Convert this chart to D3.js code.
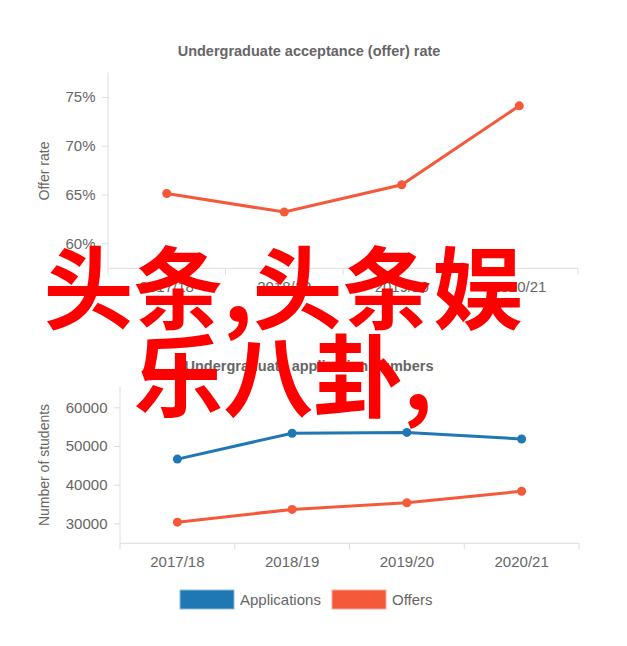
<!DOCTYPE html>
<html>
<head>
<meta charset="utf-8">
<script src="https://cdn.jsdelivr.net/npm/d3@7/dist/d3.min.js"></script>
<style>
  body { margin: 0; background: #fff; }
  svg { display: block; font-family: "Liberation Sans", Arial, sans-serif; }
  .axis path, .axis line { stroke: #ddd; }
  .axis text { fill: #666; font-size: 15px; }
</style>
</head>
<body>
<svg id="chart" width="627" height="646"></svg>
<script>
const YEARS = ["2017/18", "2018/19", "2019/20", "2020/21"];
const OFFER_RATE = [65.1, 63.2, 66.0, 74.1];
const RATE_TICKS = [60, 65, 70, 75];
const APPLICATIONS = [46600, 53300, 53500, 51800];
const OFFERS = [30300, 33600, 35300, 38300];
const COUNT_TICKS = [30000, 40000, 50000, 60000];
const SERIES_NAMES = ["Applications", "Offers"];

const BLUE = "#1f77b4";
const ORANGE = "#f4593a";

var svg = d3.select("#chart");

// draws one small line chart panel
function drawPanel (opts) {
    var g = svg.append("g").attr("transform", "translate(" + opts.left + "," + opts.top + ")");

    var x = d3.scaleBand().domain(YEARS).range([0, opts.width]);
    var y = d3.scaleLinear().domain(opts.domain).range([opts.height, 0]);

    // title
    svg.append("text")
       .attr("x", opts.titleX)
       .attr("y", opts.titleY)
       .attr("text-anchor", "middle")
       .style("font-size", "14.5px")
       .style("font-weight", "bold")
       .style("fill", "#666")
       .text(opts.title);

    // x axis with ticks at band edges
    var xAxis = g.append("g")
                 .attr("class", "axis")
                 .attr("transform", "translate(0," + opts.height + ")")
                 .call(d3.axisBottom(x).tickSize(0).tickPadding(13.5));
    xAxis.select(".domain").attr("d", "M0,6V0H" + opts.width + "V6");
    var edges = YEARS.map(function (c) { return x(c); }).concat([opts.width]);
    xAxis.selectAll(".edge")
         .data(edges.slice(1, -1))
         .enter().append("line")
         .attr("x1", function (d) { return d; })
         .attr("x2", function (d) { return d; })
         .attr("y1", 0)
         .attr("y2", 6);

    // y axis
    g.append("g")
     .attr("class", "axis")
     .call(d3.axisLeft(y).tickValues(opts.ticks).tickFormat(opts.format).tickSize(6).tickPadding(6.5))
     .select(".domain").attr("d", "M0,0V" + opts.height);

    // y label
    g.append("text")
     .attr("transform", "rotate(-90)")
     .attr("x", -(opts.labelCenter - opts.top))
     .attr("y", 49 - opts.left)
     .attr("text-anchor", "middle")
     .style("font-size", "14px")
     .style("fill", "#666")
     .text(opts.label);

    var line = d3.line()
                 .x(function (d, i) { return x(YEARS[i]) + x.bandwidth() / 2; })
                 .y(function (d) { return y(d); });

    opts.series.forEach(function (s) {
        g.append("path")
         .datum(s.values)
         .attr("d", line)
         .style("fill", "none")
         .style("stroke", s.color)
         .style("stroke-width", 3);

        g.selectAll(null)
         .data(s.values)
         .enter().append("circle")
         .attr("cx", function (d, i) { return x(YEARS[i]) + x.bandwidth() / 2; })
         .attr("cy", function (d) { return y(d); })
         .attr("r", 4.5)
         .style("fill", s.color);
    });
}

drawPanel({
    left: 108, top: 72.5, width: 470, height: 195.8,
    domain: [57.43, 77.52], ticks: RATE_TICKS,
    format: function (d) { return d + "%"; },
    title: "Undergraduate acceptance (offer) rate", titleX: 309, titleY: 56,
    label: "Offer rate", labelCenter: 171,
    series: [{ values: OFFER_RATE, color: ORANGE }]
});

drawPanel({
    left: 120, top: 386.7, width: 459, height: 156.6,
    domain: [24830, 65330], ticks: COUNT_TICKS,
    format: function (d) { return d; },
    title: "Undergraduate application numbers", titleX: 309, titleY: 371,
    label: "Number of students", labelCenter: 465,
    series: [{ values: APPLICATIONS, color: BLUE }, { values: OFFERS, color: ORANGE }]
});

// legend
var legendX = [180, 332];
var legend = svg.selectAll(".legend")
                .data(SERIES_NAMES)
                .enter().append("g")
                .attr("transform", function (d, i) { return "translate(" + legendX[i] + ",590)"; });
legend.append("rect")
      .attr("width", 54)
      .attr("height", 19)
      .style("fill", function (d, i) { return i == 0 ? BLUE : ORANGE; })
      .style("stroke", function (d, i) { return i == 0 ? "#8fbbdd" : "#f9ab9b"; })
      .style("stroke-width", 1);
legend.append("text")
      .attr("x", 60)
      .attr("y", 14.5)
      .style("font-size", "15px")
      .style("fill", "#666")
      .text(function (d) { return d; });

// red overlay text
var overlay = ["头条,头条娱", "乐八卦,"];
svg.selectAll(".overlay")
   .data(overlay)
   .enter().append("text")
   .attr("x", 283)
   .attr("y", function (d, i) { return 322 + i * 88; })
   .attr("text-anchor", "middle")
   .style("font-family", "'Noto Sans CJK SC', sans-serif")
   .style("font-size", "90px")
   .style("font-weight", "bold")
   .style("fill", "#ff0000")
   .text(function (d) { return d; });
</script>
</body>
</html>
